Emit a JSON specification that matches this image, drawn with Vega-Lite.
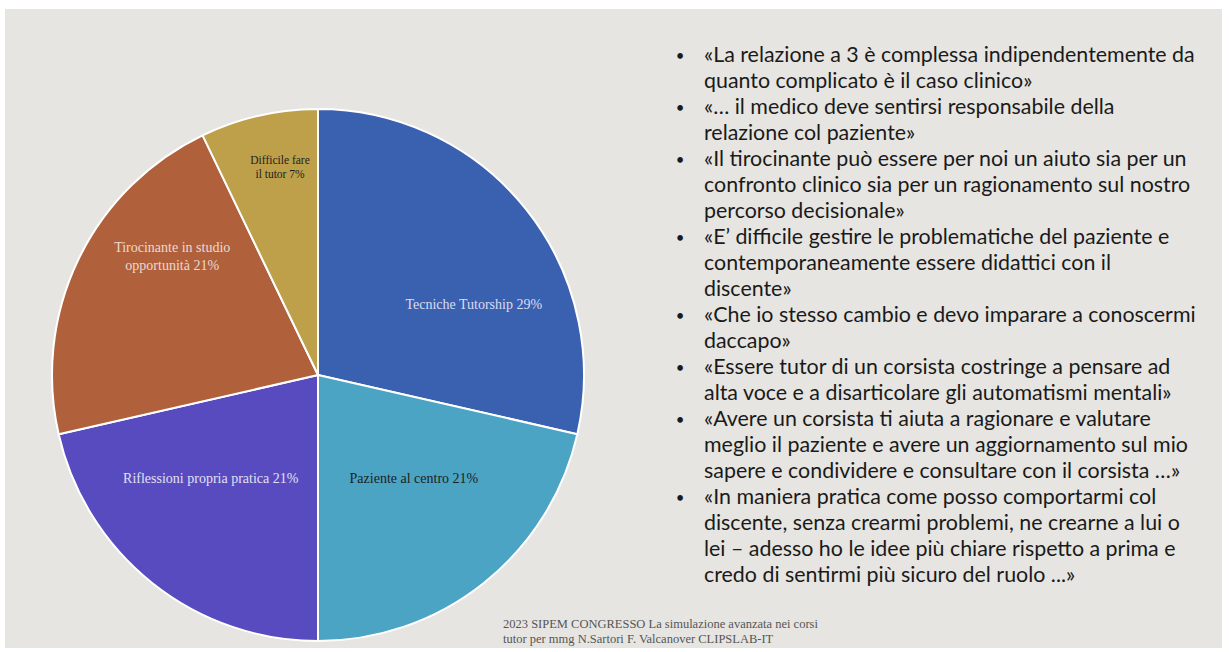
{
  "$schema": "https://vega.github.io/schema/vega-lite/v6.json",
  "width": 1229,
  "height": 652,
  "autosize": {"type": "fit", "contains": "padding"},
  "padding": {"left": 5, "top": 9, "right": 7, "bottom": 4},
  "background": "#ffffff",
  "config": {"view": {"fill": "#e6e5e1", "stroke": null}},
  "datasets": {
    "pie": [
      {"cat": "Tecniche Tutorship", "label": "Tecniche Tutorship 29%", "n": 4, "ord": 1},
      {"cat": "Paziente al centro", "label": "Paziente al centro 21%", "n": 3, "ord": 2},
      {"cat": "Riflessioni propria pratica", "label": "Riflessioni propria pratica 21%", "n": 3, "ord": 3},
      {"cat": "Tirocinante in studio opportunità", "label": "Tirocinante in studio\nopportunità 21%", "n": 3, "ord": 4},
      {"cat": "Difficile fare il tutor", "label": "Difficile fare\nil tutor 7%", "n": 1, "ord": 5}
    ],
    "lines": [
      {"line": 0, "bullet": true, "text": "«La relazione a 3 è complessa indipendentemente da"},
      {"line": 1, "bullet": false, "text": "quanto complicato è il caso clinico»"},
      {"line": 2, "bullet": true, "text": "«… il medico deve sentirsi responsabile della"},
      {"line": 3, "bullet": false, "text": "relazione col paziente»"},
      {"line": 4, "bullet": true, "text": "«Il tirocinante può essere per noi un aiuto sia per un"},
      {"line": 5, "bullet": false, "text": "confronto clinico sia per un ragionamento sul nostro"},
      {"line": 6, "bullet": false, "text": "percorso decisionale»"},
      {"line": 7, "bullet": true, "text": "«E’ difficile gestire le problematiche del paziente e"},
      {"line": 8, "bullet": false, "text": "contemporaneamente essere didattici con il"},
      {"line": 9, "bullet": false, "text": "discente»"},
      {"line": 10, "bullet": true, "text": "«Che io stesso cambio e devo imparare a conoscermi"},
      {"line": 11, "bullet": false, "text": "daccapo»"},
      {"line": 12, "bullet": true, "text": "«Essere tutor di un corsista costringe a pensare ad"},
      {"line": 13, "bullet": false, "text": "alta voce e a disarticolare gli automatismi mentali»"},
      {"line": 14, "bullet": true, "text": "«Avere un corsista ti aiuta a ragionare e valutare"},
      {"line": 15, "bullet": false, "text": "meglio il paziente e avere un aggiornamento sul mio"},
      {"line": 16, "bullet": false, "text": "sapere e condividere e consultare con il corsista …»"},
      {"line": 17, "bullet": true, "text": "\u00a0«In maniera pratica come posso comportarmi col"},
      {"line": 18, "bullet": false, "text": "discente, senza crearmi problemi, ne crearne a lui o"},
      {"line": 19, "bullet": false, "text": "lei – adesso ho le idee più chiare rispetto a prima e"},
      {"line": 20, "bullet": false, "text": "credo di sentirmi più sicuro del ruolo ...»"}
    ],
    "footer": [
      {"fline": 0, "text": "2023 SIPEM CONGRESSO La simulazione avanzata nei corsi"},
      {"fline": 1, "text": "tutor per mmg N.Sartori F. Valcanover CLIPSLAB-IT"}
    ]
  },
  "layer": [
    {
      "data": {"name": "pie"},
      "mark": {"type": "arc", "x": 313, "y": 366, "outerRadius": 266, "stroke": "#ffffff", "strokeWidth": 2},
      "encoding": {
        "theta": {"field": "n", "type": "quantitative", "stack": true},
        "order": {"field": "ord", "type": "quantitative"},
        "color": {
          "field": "cat", "type": "nominal", "legend": null,
          "scale": {
            "domain": ["Tecniche Tutorship", "Paziente al centro", "Riflessioni propria pratica", "Tirocinante in studio opportunità", "Difficile fare il tutor"],
            "range": ["#3a61b0", "#4ba4c4", "#584bc0", "#b0613c", "#bda049"]
          }
        }
      }
    },
    {
      "data": {"name": "pie"},
      "mark": {"type": "text", "x": 313, "y": 366, "radius": 166, "dx": 26, "dy": 33, "font": "Liberation Serif", "fontSize": 14, "lineBreak": "\n", "align": "center", "baseline": "middle", "color": "#dcdcf0"},
      "encoding": {
        "theta": {"field": "n", "type": "quantitative", "stack": true},
        "order": {"field": "ord", "type": "quantitative"},
        "text": {"condition": {"test": "datum.cat !== 'Tecniche Tutorship'", "value": ""}, "field": "label"}
      }
    },
    {
      "data": {"name": "pie"},
      "mark": {"type": "text", "x": 313, "y": 366, "radius": 141, "dx": 8, "dy": -6, "font": "Liberation Serif", "fontSize": 14, "lineBreak": "\n", "align": "center", "baseline": "middle", "color": "#1e1e1e"},
      "encoding": {
        "theta": {"field": "n", "type": "quantitative", "stack": true},
        "order": {"field": "ord", "type": "quantitative"},
        "text": {"condition": {"test": "datum.cat !== 'Paziente al centro'", "value": ""}, "field": "label"}
      }
    },
    {
      "data": {"name": "pie"},
      "mark": {"type": "text", "x": 313, "y": 366, "radius": 148, "dx": -15, "dy": -12, "font": "Liberation Serif", "fontSize": 14, "lineBreak": "\n", "align": "center", "baseline": "middle", "color": "#e2e0f2"},
      "encoding": {
        "theta": {"field": "n", "type": "quantitative", "stack": true},
        "order": {"field": "ord", "type": "quantitative"},
        "text": {"condition": {"test": "datum.cat !== 'Riflessioni propria pratica'", "value": ""}, "field": "label"}
      }
    },
    {
      "data": {"name": "pie"},
      "mark": {"type": "text", "x": 313, "y": 366, "radius": 184, "dx": 20, "dy": -47, "font": "Liberation Serif", "fontSize": 14, "lineHeight": 18, "lineBreak": "\n", "align": "center", "baseline": "middle", "color": "#ecd9d0"},
      "encoding": {
        "theta": {"field": "n", "type": "quantitative", "stack": true},
        "order": {"field": "ord", "type": "quantitative"},
        "text": {"condition": {"test": "datum.cat !== 'Tirocinante in studio opportunità'", "value": ""}, "field": "label"}
      }
    },
    {
      "data": {"name": "pie"},
      "mark": {"type": "text", "x": 313, "y": 366, "radius": 211, "dx": 9, "dy": -8, "font": "Liberation Serif", "fontSize": 11.5, "lineHeight": 14, "lineBreak": "\n", "align": "center", "baseline": "middle", "color": "#1e1e1e"},
      "encoding": {
        "theta": {"field": "n", "type": "quantitative", "stack": true},
        "order": {"field": "ord", "type": "quantitative"},
        "text": {"condition": {"test": "datum.cat !== 'Difficile fare il tutor'", "value": ""}, "field": "label"}
      }
    },
    {
      "data": {"name": "lines"},
      "mark": {"type": "text", "align": "left", "baseline": "middle", "font": "Lato", "fontSize": 21.4, "color": "#1a1a1a"},
      "encoding": {
        "x": {"value": 699},
        "y": {"field": "line", "type": "quantitative", "axis": null, "scale": {"domain": [0, 20], "range": [47, 567]}},
        "text": {"field": "text"}
      }
    },
    {
      "data": {"name": "lines"},
      "transform": [{"filter": "datum.bullet"}],
      "mark": {"type": "text", "align": "center", "baseline": "middle", "font": "Lato", "fontSize": 15, "color": "#1a1a1a", "text": "•"},
      "encoding": {
        "x": {"value": 675},
        "y": {"field": "line", "type": "quantitative", "axis": null, "scale": {"domain": [0, 20], "range": [47, 567]}}
      }
    },
    {
      "data": {"name": "footer"},
      "mark": {"type": "text", "align": "left", "baseline": "middle", "font": "Liberation Serif", "fontSize": 12.5, "color": "#555555"},
      "encoding": {
        "x": {"value": 498},
        "y": {"field": "fline", "type": "quantitative", "axis": null, "scale": {"domain": [0, 1], "range": [615, 630]}},
        "text": {"field": "text"}
      }
    }
  ],
  "resolve": {"scale": {"y": "independent", "color": "independent"}}
}
